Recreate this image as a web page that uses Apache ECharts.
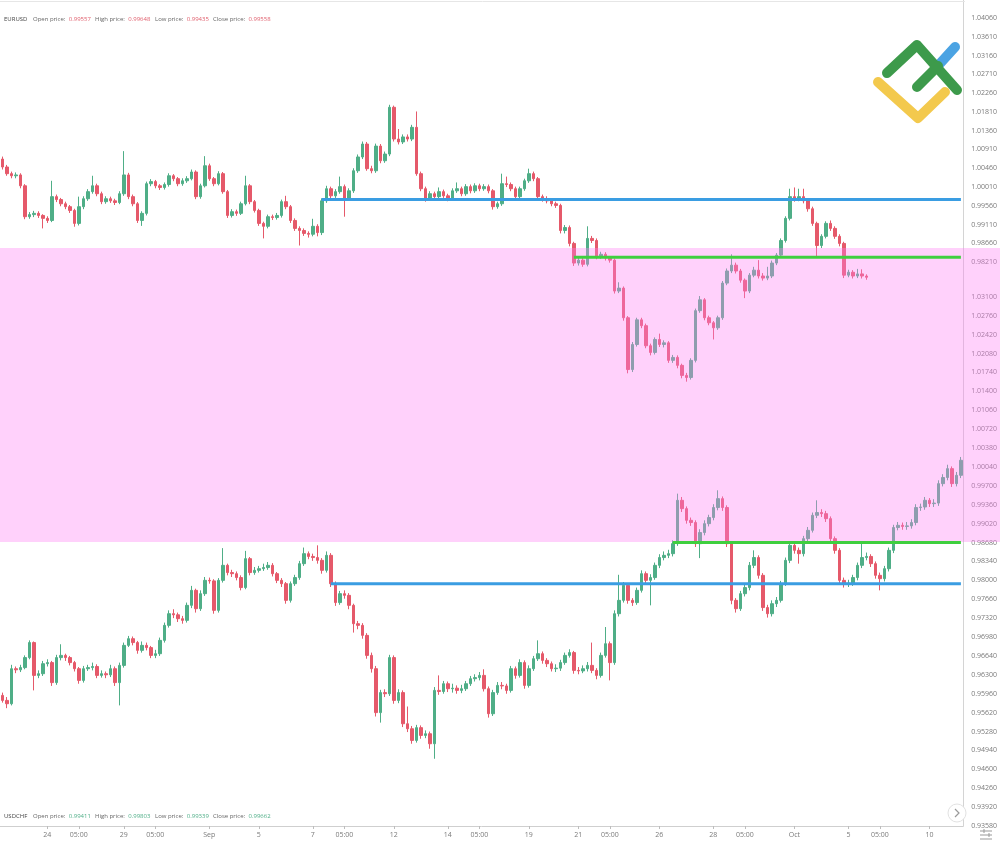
<!DOCTYPE html>
<html>
<head>
<meta charset="utf-8">
<title>EURUSD / USDCHF</title>
<script src="https://cdn.jsdelivr.net/npm/echarts@6/dist/echarts.min.js"></script>
<style>
  html, body { margin: 0; padding: 0; background: #fff; }
  #chart { width: 1000px; height: 842px; }
</style>
</head>
<body>
<div id="chart"></div>
<script>
// 4H candles, opens follow the previous close
const eurOpen0 = 1.0068
const eurClose = [
  1.0049, 1.0033, 1.0028, 1.0030, 1.0004, 0.9930, 0.9935, 0.9938, 0.9933, 0.9926,
  0.9921, 0.9978, 0.9971, 0.9961, 0.9954, 0.9945, 0.9914, 0.9954, 0.9973, 0.9990,
  1.0004, 0.9985, 0.9966, 0.9973, 0.9968, 0.9964, 0.9985, 1.0030, 0.9978, 0.9961,
  0.9921, 0.9938, 1.0009, 1.0014, 1.0004, 1.0000, 1.0007, 1.0028, 1.0021, 1.0009,
  1.0016, 1.0021, 1.0037, 0.9978, 1.0004, 1.0052, 1.0021, 1.0009, 1.0033, 0.9990,
  0.9933, 0.9942, 0.9938, 0.9961, 1.0004, 0.9966, 0.9945, 0.9914, 0.9907, 0.9930,
  0.9928, 0.9933, 0.9966, 0.9954, 0.9921, 0.9902, 0.9897, 0.9890, 0.9888, 0.9907,
  0.9892, 0.9968, 0.9997, 0.9980, 0.9990, 1.0002, 0.9973, 0.9992, 1.0040, 1.0073,
  1.0104, 1.0045, 1.0040, 1.0099, 1.0064, 1.0080, 1.0192, 1.0116, 1.0109, 1.0121,
  1.0116, 1.0144, 1.0033, 0.9997, 0.9973, 0.9985, 0.9978, 0.9990, 0.9980, 0.9973,
  0.9992, 0.9997, 0.9985, 1.0002, 0.9992, 1.0004, 0.9997, 1.0002, 0.9992, 0.9954,
  0.9961, 1.0009, 1.0007, 0.9997, 0.9978, 0.9997, 1.0016, 1.0033, 1.0021, 0.9978,
  0.9973, 0.9968, 0.9961, 0.9957, 0.9897, 0.9904, 0.9866, 0.9819, 0.9826, 0.9816,
  0.9878, 0.9873, 0.9835, 0.9840, 0.9831, 0.9826, 0.9752, 0.9759, 0.9688, 0.9564,
  0.9624, 0.9683, 0.9669, 0.9621, 0.9605, 0.9636, 0.9624, 0.9628, 0.9586, 0.9593,
  0.9574, 0.9550, 0.9545, 0.9586, 0.9705, 0.9731, 0.9688, 0.9676, 0.9664, 0.9688,
  0.9771, 0.9800, 0.9814, 0.9800, 0.9778, 0.9752, 0.9790, 0.9802, 0.9788, 0.9783,
  0.9788, 0.9819, 0.9838, 0.9873, 0.9926, 0.9978, 0.9973, 0.9978, 0.9968, 0.9949,
  0.9914, 0.9861, 0.9883, 0.9914, 0.9902, 0.9883, 0.9866, 0.9790, 0.9797, 0.9788,
  0.9793, 0.9788, 0.9785
]
const eurHigh = [
  1.0074, 1.0054, 1.0038, 1.0036, 1.0034, 1.0008, 0.9941, 0.9944, 0.9943, 0.9936,
  0.9931, 1.0016, 0.9983, 0.9975, 0.9966, 0.9958, 0.9949, 0.9978, 0.9979, 0.9996,
  1.0028, 1.0009, 0.9990, 0.9979, 0.9978, 0.9973, 0.9991, 1.0087, 1.0035, 0.9983,
  0.9965, 0.9943, 1.0014, 1.0020, 1.0018, 1.0008, 1.0012, 1.0034, 1.0032, 1.0025,
  1.0022, 1.0027, 1.0043, 1.0041, 1.0009, 1.0075, 1.0057, 1.0025, 1.0039, 1.0037,
  0.9994, 0.9948, 0.9947, 0.9966, 1.0028, 1.0008, 0.9970, 0.9949, 0.9918, 0.9935,
  0.9935, 0.9939, 0.9971, 0.9980, 0.9958, 0.9926, 0.9907, 0.9902, 0.9895, 0.9925,
  0.9912, 0.9974, 1.0004, 1.0002, 0.9996, 1.0026, 1.0007, 0.9998, 1.0046, 1.0079,
  1.0110, 1.0109, 1.0052, 1.0105, 1.0104, 1.0086, 1.0198, 1.0196, 1.0140, 1.0127,
  1.0127, 1.0150, 1.0182, 1.0038, 1.0002, 0.9991, 0.9990, 1.0000, 0.9995, 0.9985,
  0.9998, 1.0012, 1.0002, 1.0008, 1.0007, 1.0010, 1.0009, 1.0008, 1.0007, 0.9996,
  0.9966, 1.0033, 1.0026, 1.0012, 1.0002, 1.0002, 1.0021, 1.0045, 1.0038, 1.0025,
  0.9983, 0.9979, 0.9972, 0.9966, 0.9961, 0.9910, 0.9909, 0.9870, 0.9832, 0.9831,
  0.9907, 0.9884, 0.9878, 0.9846, 0.9845, 0.9836, 0.9830, 0.9773, 0.9763, 0.9692,
  0.9630, 0.9688, 0.9688, 0.9674, 0.9626, 0.9641, 0.9650, 0.9634, 0.9632, 0.9599,
  0.9598, 0.9578, 0.9556, 0.9591, 0.9710, 0.9740, 0.9735, 0.9693, 0.9680, 0.9693,
  0.9776, 0.9806, 0.9840, 0.9820, 0.9805, 0.9782, 0.9795, 0.9810, 0.9826, 0.9795,
  0.9810, 0.9825, 0.9843, 0.9878, 0.9931, 0.9997, 1.0000, 0.9997, 0.9997, 0.9973,
  0.9954, 0.9918, 0.9888, 0.9919, 0.9921, 0.9907, 0.9888, 0.9870, 0.9803, 0.9802,
  0.9805, 0.9804, 0.9792
]
const eurLow = [
  1.0043, 1.0028, 1.0022, 1.0022, 0.9998, 0.9924, 0.9925, 0.9929, 0.9927, 0.9902,
  0.9915, 0.9917, 0.9965, 0.9955, 0.9948, 0.9939, 0.9906, 0.9909, 0.9948, 0.9968,
  0.9985, 0.9979, 0.9960, 0.9961, 0.9963, 0.9958, 0.9960, 0.9980, 0.9972, 0.9955,
  0.9915, 0.9908, 0.9933, 1.0003, 0.9998, 0.9994, 0.9995, 1.0002, 1.0015, 1.0003,
  1.0004, 1.0011, 1.0017, 0.9972, 0.9973, 1.0000, 1.0016, 1.0003, 1.0005, 0.9985,
  0.9927, 0.9928, 0.9932, 0.9934, 0.9957, 0.9960, 0.9940, 0.9908, 0.9878, 0.9902,
  0.9922, 0.9923, 0.9928, 0.9948, 0.9915, 0.9896, 0.9861, 0.9884, 0.9880, 0.9883,
  0.9883, 0.9886, 0.9963, 0.9974, 0.9975, 0.9985, 0.9930, 0.9968, 0.9987, 1.0035,
  1.0068, 1.0040, 1.0034, 1.0035, 1.0058, 1.0059, 1.0075, 1.0110, 1.0103, 1.0104,
  1.0110, 1.0111, 1.0028, 0.9991, 0.9966, 0.9968, 0.9972, 0.9973, 0.9975, 0.9967,
  0.9968, 0.9987, 0.9979, 0.9980, 0.9986, 0.9987, 0.9991, 0.9992, 0.9986, 0.9947,
  0.9949, 0.9956, 1.0001, 0.9991, 0.9972, 0.9973, 0.9992, 1.0011, 1.0015, 0.9972,
  0.9966, 0.9962, 0.9955, 0.9951, 0.9890, 0.9890, 0.9859, 0.9812, 0.9813, 0.9810,
  0.9811, 0.9867, 0.9828, 0.9829, 0.9825, 0.9820, 0.9746, 0.9747, 0.9681, 0.9555,
  0.9558, 0.9619, 0.9663, 0.9615, 0.9598, 0.9600, 0.9618, 0.9617, 0.9580, 0.9580,
  0.9567, 0.9543, 0.9535, 0.9540, 0.9581, 0.9700, 0.9682, 0.9670, 0.9636, 0.9659,
  0.9683, 0.9766, 0.9795, 0.9794, 0.9772, 0.9735, 0.9747, 0.9785, 0.9782, 0.9777,
  0.9778, 0.9783, 0.9814, 0.9833, 0.9868, 0.9921, 0.9966, 0.9967, 0.9962, 0.9942,
  0.9908, 0.9835, 0.9855, 0.9878, 0.9896, 0.9877, 0.9859, 0.9783, 0.9785, 0.9782,
  0.9783, 0.9782, 0.9779
]

const usdOpen0 = 0.9593
const usdClose = [
  0.9584, 0.9578, 0.9641, 0.9639, 0.9643, 0.9661, 0.9688, 0.9629, 0.9632, 0.9650,
  0.9652, 0.9616, 0.9661, 0.9665, 0.9661, 0.9652, 0.9641, 0.9620, 0.9641, 0.9643,
  0.9645, 0.9629, 0.9632, 0.9630, 0.9641, 0.9616, 0.9647, 0.9683, 0.9695, 0.9688,
  0.9674, 0.9683, 0.9679, 0.9665, 0.9668, 0.9692, 0.9719, 0.9740, 0.9738, 0.9731,
  0.9728, 0.9755, 0.9782, 0.9749, 0.9776, 0.9800, 0.9799, 0.9746, 0.9800, 0.9827,
  0.9814, 0.9812, 0.9805, 0.9787, 0.9839, 0.9814, 0.9818, 0.9821, 0.9823, 0.9827,
  0.9812, 0.9800, 0.9794, 0.9764, 0.9794, 0.9805, 0.9830, 0.9848, 0.9843, 0.9841,
  0.9836, 0.9818, 0.9845, 0.9794, 0.9760, 0.9776, 0.9773, 0.9755, 0.9722, 0.9719,
  0.9701, 0.9665, 0.9641, 0.9562, 0.9598, 0.9596, 0.9661, 0.9584, 0.9598, 0.9542,
  0.9533, 0.9512, 0.9535, 0.9521, 0.9524, 0.9506, 0.9602, 0.9600, 0.9614, 0.9605,
  0.9606, 0.9602, 0.9605, 0.9614, 0.9623, 0.9625, 0.9629, 0.9605, 0.9560, 0.9598,
  0.9611, 0.9610, 0.9602, 0.9641, 0.9629, 0.9652, 0.9611, 0.9641, 0.9659, 0.9668,
  0.9656, 0.9650, 0.9641, 0.9642, 0.9652, 0.9665, 0.9670, 0.9638, 0.9637, 0.9641,
  0.9647, 0.9638, 0.9629, 0.9665, 0.9686, 0.9652, 0.9740, 0.9764, 0.9791, 0.9764,
  0.9760, 0.9782, 0.9812, 0.9800, 0.9805, 0.9827, 0.9841, 0.9845, 0.9848, 0.9866,
  0.9944, 0.9929, 0.9908, 0.9904, 0.9866, 0.9886, 0.9902, 0.9913, 0.9931, 0.9947,
  0.9931, 0.9866, 0.9764, 0.9749, 0.9776, 0.9787, 0.9827, 0.9841, 0.9809, 0.9751,
  0.9740, 0.9758, 0.9764, 0.9794, 0.9836, 0.9863, 0.9854, 0.9848, 0.9875, 0.9890,
  0.9917, 0.9922, 0.9920, 0.9911, 0.9875, 0.9854, 0.9800, 0.9794, 0.9795, 0.9805,
  0.9827, 0.9841, 0.9843, 0.9830, 0.9809, 0.9803, 0.9821, 0.9854, 0.9895, 0.9899,
  0.9897, 0.9898, 0.9904, 0.9931, 0.9932, 0.9944, 0.9938, 0.9939, 0.9974, 0.9985,
  1.0001, 0.9974, 0.9989, 1.0016
]
const usdHigh = [
  0.9598, 0.9590, 0.9648, 0.9645, 0.9648, 0.9665, 0.9692, 0.9690, 0.9638, 0.9655,
  0.9658, 0.9655, 0.9666, 0.9685, 0.9668, 0.9664, 0.9655, 0.9644, 0.9646, 0.9648,
  0.9652, 0.9649, 0.9638, 0.9636, 0.9648, 0.9645, 0.9652, 0.9688, 0.9700, 0.9699,
  0.9691, 0.9690, 0.9688, 0.9682, 0.9675, 0.9697, 0.9724, 0.9746, 0.9748, 0.9742,
  0.9736, 0.9760, 0.9790, 0.9785, 0.9782, 0.9806, 0.9805, 0.9802, 0.9804, 0.9858,
  0.9830, 0.9819, 0.9816, 0.9809, 0.9853, 0.9842, 0.9824, 0.9826, 0.9830, 0.9833,
  0.9831, 0.9815, 0.9804, 0.9797, 0.9798, 0.9810, 0.9835, 0.9859, 0.9852, 0.9848,
  0.9863, 0.9840, 0.9852, 0.9849, 0.9798, 0.9781, 0.9782, 0.9777, 0.9758, 0.9727,
  0.9723, 0.9705, 0.9670, 0.9646, 0.9603, 0.9604, 0.9666, 0.9665, 0.9604, 0.9602,
  0.9573, 0.9538, 0.9540, 0.9539, 0.9530, 0.9528, 0.9608, 0.9629, 0.9619, 0.9618,
  0.9614, 0.9611, 0.9612, 0.9619, 0.9628, 0.9631, 0.9635, 0.9640, 0.9609, 0.9603,
  0.9617, 0.9617, 0.9614, 0.9646, 0.9645, 0.9658, 0.9656, 0.9647, 0.9664, 0.9692,
  0.9672, 0.9660, 0.9654, 0.9649, 0.9657, 0.9670, 0.9676, 0.9673, 0.9644, 0.9647,
  0.9653, 0.9688, 0.9642, 0.9670, 0.9716, 0.9690, 0.9746, 0.9810, 0.9797, 0.9795,
  0.9768, 0.9787, 0.9818, 0.9816, 0.9811, 0.9832, 0.9847, 0.9852, 0.9855, 0.9872,
  0.9956, 0.9950, 0.9933, 0.9913, 0.9908, 0.9892, 0.9908, 0.9918, 0.9937, 0.9962,
  0.9951, 0.9935, 0.9870, 0.9768, 0.9781, 0.9793, 0.9833, 0.9854, 0.9845, 0.9813,
  0.9756, 0.9764, 0.9770, 0.9799, 0.9841, 0.9869, 0.9868, 0.9859, 0.9880, 0.9896,
  0.9922, 0.9944, 0.9928, 0.9925, 0.9915, 0.9879, 0.9858, 0.9805, 0.9801, 0.9810,
  0.9832, 0.9868, 0.9850, 0.9847, 0.9834, 0.9814, 0.9826, 0.9859, 0.9900, 0.9905,
  0.9904, 0.9905, 0.9910, 0.9937, 0.9938, 0.9950, 0.9948, 0.9946, 0.9980, 0.9991,
  1.0008, 1.0005, 0.9995, 1.0022
]
const usdLow = [
  0.9580, 0.9570, 0.9575, 0.9633, 0.9635, 0.9640, 0.9658, 0.9602, 0.9624, 0.9628,
  0.9645, 0.9610, 0.9612, 0.9656, 0.9655, 0.9647, 0.9636, 0.9614, 0.9616, 0.9637,
  0.9638, 0.9624, 0.9625, 0.9624, 0.9626, 0.9610, 0.9575, 0.9643, 0.9680, 0.9683,
  0.9668, 0.9670, 0.9674, 0.9660, 0.9660, 0.9664, 0.9688, 0.9715, 0.9732, 0.9725,
  0.9722, 0.9724, 0.9750, 0.9742, 0.9745, 0.9772, 0.9794, 0.9740, 0.9742, 0.9796,
  0.9809, 0.9806, 0.9800, 0.9782, 0.9784, 0.9809, 0.9810, 0.9814, 0.9817, 0.9819,
  0.9807, 0.9795, 0.9788, 0.9758, 0.9760, 0.9790, 0.9801, 0.9826, 0.9838, 0.9835,
  0.9830, 0.9812, 0.9814, 0.9788, 0.9754, 0.9756, 0.9767, 0.9748, 0.9706, 0.9712,
  0.9695, 0.9659, 0.9634, 0.9555, 0.9544, 0.9590, 0.9592, 0.9578, 0.9579, 0.9536,
  0.9527, 0.9506, 0.9508, 0.9515, 0.9516, 0.9497, 0.9479, 0.9594, 0.9596, 0.9599,
  0.9598, 0.9596, 0.9597, 0.9601, 0.9610, 0.9618, 0.9620, 0.9600, 0.9553, 0.9556,
  0.9594, 0.9604, 0.9596, 0.9598, 0.9623, 0.9625, 0.9605, 0.9607, 0.9637, 0.9655,
  0.9650, 0.9644, 0.9636, 0.9635, 0.9637, 0.9648, 0.9661, 0.9632, 0.9631, 0.9633,
  0.9636, 0.9633, 0.9622, 0.9625, 0.9661, 0.9620, 0.9648, 0.9735, 0.9760, 0.9758,
  0.9754, 0.9756, 0.9778, 0.9794, 0.9755, 0.9801, 0.9822, 0.9836, 0.9840, 0.9843,
  0.9862, 0.9923, 0.9902, 0.9898, 0.9860, 0.9840, 0.9881, 0.9897, 0.9908, 0.9926,
  0.9925, 0.9860, 0.9757, 0.9742, 0.9745, 0.9771, 0.9782, 0.9822, 0.9803, 0.9745,
  0.9733, 0.9735, 0.9752, 0.9760, 0.9790, 0.9831, 0.9848, 0.9830, 0.9843, 0.9870,
  0.9886, 0.9912, 0.9914, 0.9905, 0.9869, 0.9848, 0.9794, 0.9787, 0.9788, 0.9790,
  0.9800, 0.9822, 0.9836, 0.9824, 0.9803, 0.9782, 0.9798, 0.9816, 0.9849, 0.9890,
  0.9891, 0.9891, 0.9893, 0.9899, 0.9925, 0.9927, 0.9932, 0.9932, 0.9934, 0.9969,
  0.9980, 0.9968, 0.9969, 0.9984
]

// support / resistance levels: [start candle index, price]
const eurBlue = [71, 0.9971]
const eurGreen = [127, 0.9833]
const usdGreen = [149, 0.9868]
const usdBlue = [73, 0.9794]

// time axis labels
const tickIndex = [10, 17, 27, 34, 46, 57, 69, 76, 87, 99, 106, 117, 128, 135, 146, 158, 165, 176, 188, 195, 206]
const tickText = ['24', '05:00', '29', '05:00', 'Sep', '5', '7', '05:00', '12', '14', '05:00', '19', '21', '05:00', '26', '28', '05:00', 'Oct', '5', '05:00', '10']

const candleCount = 214
const categories = Array.from({ length: candleCount }, (_, i) => String(i))
const lastIndex = candleCount - 1

const UP = '#4fae87'
const DOWN = '#e5596a'
const BLUE = '#3a9de2'
const GREEN = '#3fcf3f'
const FONT = 'Open Sans'

function toCandles(open0, close, low, high) {
  return close.map((c, i) => [i === 0 ? open0 : close[i - 1], c, low[i], high[i]])
}

function levelSeries(level, color, xi, yi) {
  return {
    type: 'line',
    xAxisIndex: xi,
    yAxisIndex: yi,
    data: [[level[0], level[1]], [lastIndex, level[1]]],
    symbol: 'none',
    lineStyle: { color: color, width: 3 },
    z: 10,
    silent: true
  }
}

const candleStyle = {
  color: UP,
  color0: DOWN,
  borderColor: UP,
  borderColor0: DOWN,
  borderColorDoji: UP,
  borderWidth: 1
}

function isTick(index) {
  return tickIndex.indexOf(index) >= 0
}

function header(y, name, vals, valColor) {
  const lbl = ['Open price:', 'High price:', 'Low price:', 'Close price:']
  const xs = [33, 95, 155, 213]
  const items = [{
    type: 'text', x: 4, y: y, z: 20,
    style: { text: name, fill: '#444', font: '6px "Open Sans"', verticalAlign: 'middle' }
  }]
  lbl.forEach((l, i) => {
    items.push({
      type: 'text', x: xs[i], y: y, z: 20,
      style: {
        text: '{l|' + l + '} {v|' + vals[i] + '}',
        verticalAlign: 'middle',
        rich: {
          l: { fill: '#666', font: '6px "Open Sans"' },
          v: { fill: valColor, font: '6px "Open Sans"' }
        }
      }
    })
  })
  return items
}

function stroke(points, color) {
  return {
    type: 'polyline', z: 20,
    shape: { points: points },
    style: { stroke: color, lineWidth: 10, lineCap: 'round', lineJoin: 'round', fill: null }
  }
}

const chart = echarts.init(document.getElementById('chart'))

const option = {
  animation: false,
  backgroundColor: '#fff',
  textStyle: { fontFamily: FONT },
  grid: [
    { left: 0, right: 35, top: 0, bottom: 16 },
    { left: 0, right: 35, top: 278, bottom: 16 }
  ],
  xAxis: [
    { type: 'category', gridIndex: 0, data: categories, show: false },
    {
      type: 'category',
      gridIndex: 1,
      data: categories,
      axisLine: { lineStyle: { color: '#cfcfcf' } },
      axisTick: { show: true, alignWithLabel: true, interval: isTick, length: 3, lineStyle: { color: '#bdbdbd' } },
      axisLabel: {
        interval: isTick,
        formatter: (v, i) => tickText[tickIndex.indexOf(i)] || '',
        fontSize: 7,
        color: '#7a7a7a',
        margin: 5
      }
    }
  ],
  yAxis: [
    {
      type: 'value',
      gridIndex: 0,
      position: 'right',
      min: 0.8471,
      max: 1.04489,
      interval: 0.0045,
      splitLine: { show: false },
      axisLine: { show: true, lineStyle: { color: '#d4d4d4' } },
      axisTick: { show: false },
      axisLabel: {
        fontSize: 7,
        color: '#7a7a7a',
        margin: 8,
        formatter: v => (v < 0.981 || v > 1.041) ? '' : v.toFixed(5)
      }
    },
    {
      type: 'value',
      gridIndex: 1,
      position: 'right',
      min: 0.9358,
      max: 1.0344,
      interval: 0.0034,
      splitLine: { show: false },
      axisLine: { show: false },
      axisTick: { show: false },
      axisLabel: {
        fontSize: 7,
        color: '#7a7a7a',
        margin: 8,
        formatter: v => v > 1.032 ? '' : v.toFixed(5)
      }
    }
  ],
  series: [
    {
      name: 'EURUSD',
      type: 'candlestick',
      xAxisIndex: 0,
      yAxisIndex: 0,
      barWidth: 3,
      itemStyle: candleStyle,
      data: toCandles(eurOpen0, eurClose, eurLow, eurHigh)
    },
    {
      name: 'USDCHF',
      type: 'candlestick',
      xAxisIndex: 1,
      yAxisIndex: 1,
      barWidth: 3,
      itemStyle: candleStyle,
      data: toCandles(usdOpen0, usdClose, usdLow, usdHigh)
    },
    levelSeries(eurBlue, BLUE, 0, 0),
    levelSeries(eurGreen, GREEN, 0, 0),
    levelSeries(usdGreen, GREEN, 1, 1),
    levelSeries(usdBlue, BLUE, 1, 1)
  ],
  graphic: [
    // pink band sits over the candles but under the level lines
    {
      type: 'rect', z: 5, silent: true,
      shape: { x: 0, y: 248, width: 1000, height: 294 },
      style: { fill: 'rgba(255,128,244,0.36)' }
    },
    {
      type: 'line', z: 20,
      shape: { x1: 0, y1: 1.5, x2: 965, y2: 1.5 },
      style: { stroke: '#e6e6e6', lineWidth: 1 }
    },
    ...header(19, 'EURUSD', ['0.99557', '0.99648', '0.99435', '0.99558'], '#e0606e'),
    ...header(816, 'USDCHF', ['0.99411', '0.99803', '0.99339', '0.99662'], '#4fae87'),
    // logo
    stroke([[878, 82], [918, 118], [945, 92]], '#f3c94d'),
    stroke([[935, 69], [955, 47]], '#4ba3e3'),
    stroke([[887, 73], [917, 45], [957, 90]], '#3d9a4b'),
    stroke([[917, 87], [938, 66]], '#3d9a4b'),
    // scroll button and settings icon
    {
      type: 'circle', z: 20,
      shape: { cx: 957, cy: 813, r: 9 },
      style: { fill: '#fff', stroke: '#e2e2e2', lineWidth: 1 }
    },
    {
      type: 'polyline', z: 21,
      shape: { points: [[955, 809], [959, 813], [955, 817]] },
      style: { stroke: '#9a9a9a', lineWidth: 1.2, fill: null }
    },
    {
      type: 'group', z: 20,
      children: [
        { type: 'line', shape: { x1: 980, y1: 831, x2: 992, y2: 831 }, style: { stroke: '#999', lineWidth: 1 } },
        { type: 'line', shape: { x1: 980, y1: 835, x2: 992, y2: 835 }, style: { stroke: '#999', lineWidth: 1 } },
        { type: 'line', shape: { x1: 980, y1: 839, x2: 992, y2: 839 }, style: { stroke: '#999', lineWidth: 1 } },
        { type: 'line', shape: { x1: 984, y1: 829, x2: 984, y2: 833 }, style: { stroke: '#999', lineWidth: 1 } },
        { type: 'line', shape: { x1: 989, y1: 833, x2: 989, y2: 837 }, style: { stroke: '#999', lineWidth: 1 } }
      ]
    }
  ]
}

chart.setOption(option)
</script>
</body>
</html>
